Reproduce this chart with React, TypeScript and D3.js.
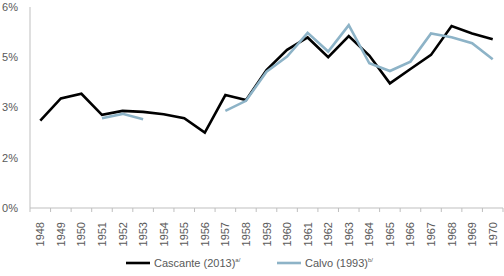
import React from "react";
import * as d3 from "d3";

const years = [
  "1948", "1949", "1950", "1951", "1952", "1953", "1954", "1955", "1956", "1957", "1958", "1959",
  "1960", "1961", "1962", "1963", "1964", "1965", "1966", "1967", "1968", "1969", "1970",
];
const cascante: (number | null)[] = [
  2.61, 3.27, 3.41, 2.78, 2.9, 2.87, 2.8, 2.68, 2.25, 3.37, 3.22, 4.12,
  4.72, 5.09, 4.5, 5.13, 4.55, 3.72, 4.15, 4.57, 5.43, 5.21, 5.04,
];
const calvo: (number | null)[] = [
  null, null, null, 2.68, 2.81, 2.65, null, null, null, 2.9, 3.2, 4.07,
  4.52, 5.23, 4.67, 5.46, 4.32, 4.09, 4.37, 5.21, 5.1, 4.92, 4.44,
];
const yTicks = [0, 1.5, 3, 4.5, 6];
const yTickLabels = ["0%", "2%", "3%", "5%", "6%"];
const seriesNames = ["Cascante (2013)", "Calvo (1993)"];
const seriesNotes = ["a/", "b/"];

const W = 504;
const H = 276;
const left = 30;
const right = 503;
const top = 7;
const bottom = 208;
const font = "'Liberation Sans', Arial, sans-serif";
const textColor = "#595959";
const axisColor = "#bfbfbf";
const colors = ["#000000", "#8db3c7"];

export default function App() {
  const x = d3.scaleBand<string>().domain(years).range([left, right]);
  const y = d3.scaleLinear().domain([0, 6]).range([bottom, top]);
  const line = d3
    .line<number | null>()
    .defined((d) => d !== null)
    .x((_, i) => (x(years[i]) as number) + x.bandwidth() / 2)
    .y((d) => y(d as number));

  const boundaries = years.map((yr) => x(yr) as number).concat([right]);
  const series = [cascante, calvo];

  return (
    <svg
      width={W}
      height={H}
      style={{ position: "absolute", left: 0, top: 0, background: "#fff" }}
      fontFamily={font}
    >
      {/* y axis */}
      <line x1={left} x2={left} y1={top} y2={bottom} stroke={axisColor} strokeWidth={1} />
      {yTicks.map((t, i) => (
        <text
          key={t}
          x={left - 12}
          y={y(t)}
          dy="0.35em"
          textAnchor="end"
          fontSize={11}
          fill={textColor}
        >
          {yTickLabels[i]}
        </text>
      ))}
      {/* x axis */}
      <line x1={left} x2={right} y1={bottom} y2={bottom} stroke={axisColor} strokeWidth={1} />
      {boundaries.map((b, i) => (
        <line key={i} x1={b} x2={b} y1={bottom} y2={bottom + 4} stroke={axisColor} strokeWidth={1} />
      ))}
      {years.map((yr) => {
        const cx = (x(yr) as number) + x.bandwidth() / 2;
        return (
          <text
            key={yr}
            transform={`translate(${cx + 4},${bottom + 14}) rotate(-90)`}
            textAnchor="end"
            fontSize={11}
            fill={textColor}
          >
            {yr}
          </text>
        );
      })}
      {/* series */}
      {series.map((s, i) => (
        <path
          key={i}
          d={line(s) || ""}
          fill="none"
          stroke={colors[i]}
          strokeWidth={2.6}
          strokeLinejoin="miter"
        />
      ))}
      {/* legend */}
      {seriesNames.map((name, i) => {
        const lx = i === 0 ? 126 : 277;
        return (
          <g key={name}>
            <line x1={lx} x2={lx + 24} y1={263} y2={263} stroke={colors[i]} strokeWidth={2.6} />
            <text x={lx + 28} y={267} fontSize={11} fill={textColor}>
              {name}
              <tspan fontSize={6} dy={-5}>
                {seriesNotes[i]}
              </tspan>
            </text>
          </g>
        );
      })}
    </svg>
  );
}
